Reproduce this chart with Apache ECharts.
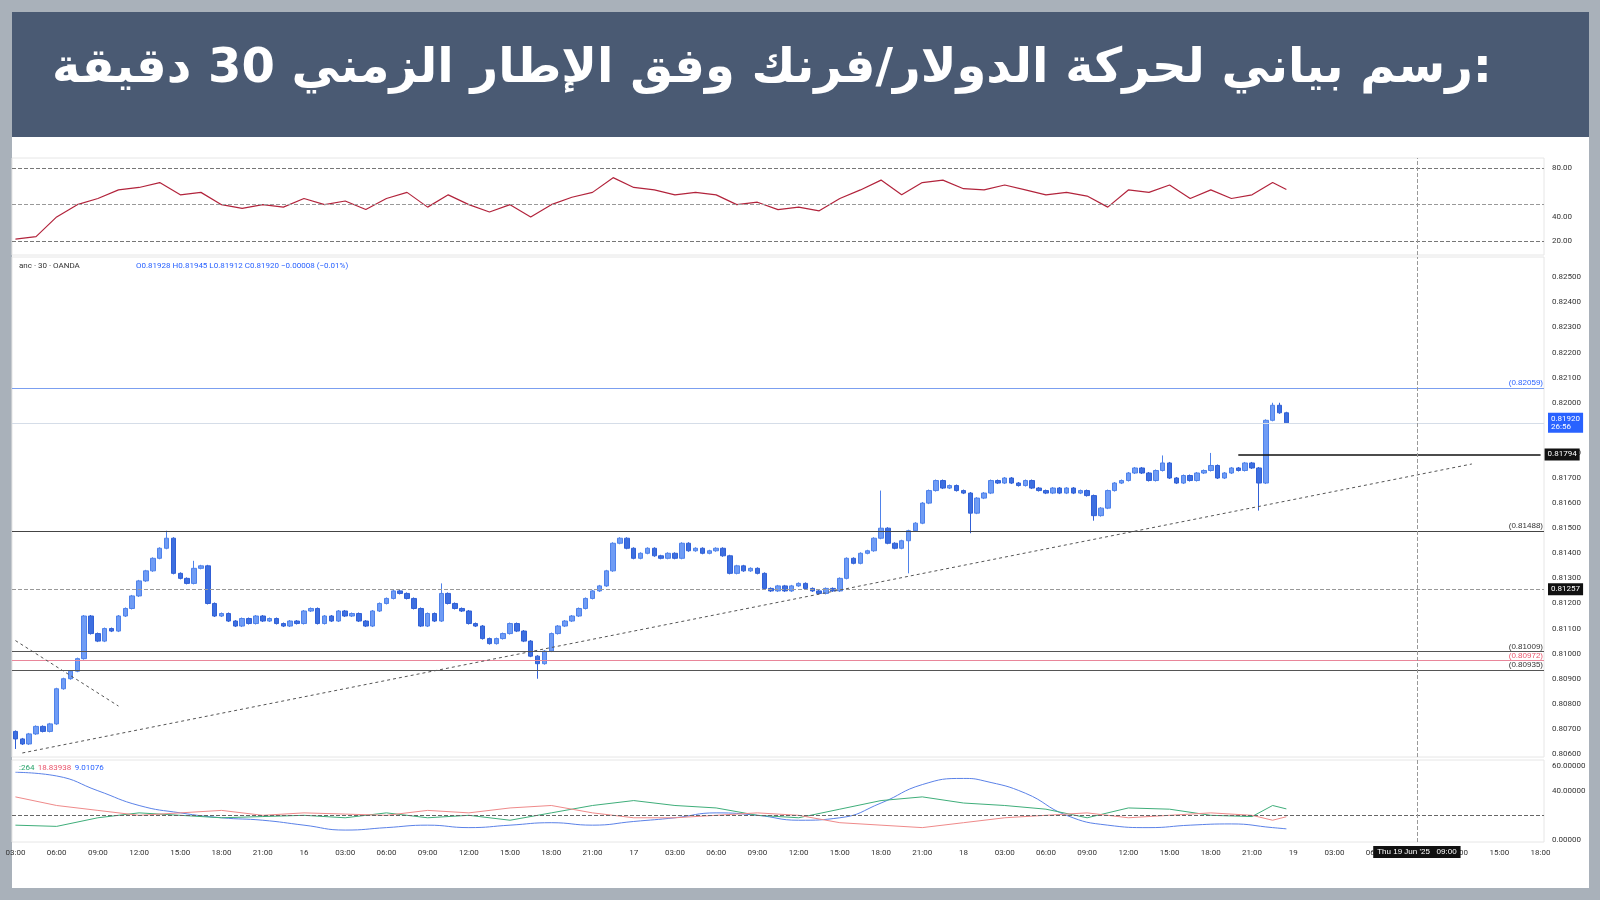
<!DOCTYPE html>
<html><head><meta charset="utf-8">
<script src="https://cdn.jsdelivr.net/npm/echarts@6/dist/echarts.min.js"></script>
<style>html,body{margin:0;padding:0;background:#a9b1ba;}#c{width:1600px;height:900px;}</style>
</head><body><div id="c"></div>
<script>
// prices in units of 0.00001 above 0.80000
const firstOpen = 690;
const closes = [660,640,680,710,690,720,860,900,930,980,
1150,1080,1050,1100,1090,1150,1180,1230,1290,1330,
1380,1420,1460,1320,1300,1280,1340,1350,1200,1150,
1160,1130,1110,1140,1120,1150,1130,1140,1120,1110,
1130,1120,1170,1180,1120,1150,1130,1170,1150,1160,
1130,1110,1170,1200,1220,1250,1240,1220,1180,1110,
1160,1130,1240,1200,1180,1170,1120,1110,1060,1040,
1060,1080,1120,1090,1050,990,960,1010,1080,1110,
1130,1150,1180,1220,1250,1270,1330,1440,1460,1420,
1380,1400,1420,1390,1380,1400,1380,1440,1410,1420,
1400,1410,1420,1390,1320,1350,1330,1340,1320,1260,
1250,1270,1250,1270,1280,1260,1250,1240,1260,1250,
1300,1380,1360,1400,1410,1460,1500,1440,1420,1450,
1490,1520,1600,1650,1690,1660,1670,1650,1640,1560,
1620,1640,1690,1680,1700,1680,1670,1690,1660,1650,
1640,1660,1640,1660,1640,1650,1630,1550,1580,1650,
1680,1690,1720,1740,1720,1690,1730,1760,1700,1680,
1710,1690,1720,1730,1750,1700,1720,1740,1730,1760,
1740,1680,1930,1990,1960,1920];
const defaultWick = 4;
const longWicks = {0:{l:620},22:{h:1490},26:{h:1370},62:{h:1280},76:{l:900},126:{h:1650},130:{l:1320},139:{l:1480},157:{l:1530},167:{h:1790},174:{h:1800},181:{l:1570},183:{h:2000},184:{h:2000}};
const rsiPts = [[0,22],[3,24],[6,40],[9,50],[12,55],[15,62],[18,64],[21,68],[24,58],[27,60],[30,50],[33,47],[36,50],[39,48],[42,55],[45,50],[48,53],[51,46],[54,55],[57,60],[60,48],[63,58],[66,50],[69,44],[72,50],[75,40],[78,50],[81,56],[84,60],[87,72],[90,64],[93,62],[96,58],[99,60],[102,58],[105,50],[108,52],[111,46],[114,48],[117,45],[120,55],[123,62],[126,70],[129,58],[132,68],[135,70],[138,63],[141,62],[144,66],[147,62],[150,58],[153,60],[156,57],[159,48],[162,62],[165,60],[168,66],[171,55],[174,62],[177,55],[180,58],[183,68],[185,62.39]];
const adxPts = [[0,55],[6,52],[12,40],[18,28],[24,22],[30,18],[36,16],[42,12],[48,8],[54,10],[60,12],[66,10],[72,12],[78,14],[84,12],[90,15],[96,18],[102,22],[108,20],[114,16],[120,18],[126,30],[132,45],[138,50],[141,48],[147,38],[153,20],[159,12],[165,10],[171,12],[177,13],[183,10],[185,9.01]];
const plusDiPts = [[0,12],[6,11],[12,18],[18,22],[24,20],[30,18],[36,19],[42,20],[48,18],[54,22],[60,18],[66,20],[72,16],[78,22],[84,28],[90,32],[96,28],[102,26],[108,20],[114,18],[120,25],[126,32],[132,35],[138,30],[144,28],[150,25],[156,18],[162,26],[168,25],[174,20],[180,19],[183,28],[185,25.23]];
const minusDiPts = [[0,35],[6,28],[12,24],[18,20],[24,22],[30,24],[36,20],[42,22],[48,21],[54,20],[60,24],[66,22],[72,26],[78,28],[84,22],[90,18],[96,18],[102,20],[108,22],[114,20],[120,14],[126,12],[132,10],[138,14],[144,18],[150,20],[156,22],[162,18],[168,20],[174,22],[180,20],[183,16],[185,18.84]];
const priceTicks = [600,700,800,900,1000,1100,1200,1300,1400,1500,1600,1700,1800,1900,2000,2100,2200,2300,2400,2500];
const slotCount = 223;
const startDay = 15, startHour = 3;
const cats = [];
for (let i=0;i<slotCount;i++){const m=startHour*60+i*30;cats.push({d:startDay+Math.floor(m/1440),h:Math.floor((m%1440)/60),mi:m%60});}
const catNames = cats.map(c=>c.d+' '+String(c.h).padStart(2,'0')+':'+String(c.mi).padStart(2,'0'));
const ohlc = closes.map((c,i)=>{const o=i?closes[i-1]:firstOpen;const w=longWicks[i]||{};
  return [o,c,w.l!==undefined?w.l:Math.min(o,c)-defaultWick,w.h!==undefined?w.h:Math.max(o,c)+defaultWick];});
const fmtP = v => (0.8+v/1e5).toFixed(5);

const chart = echarts.init(document.getElementById('c'));
const axisLbl = {color:'#333',fontSize:8,fontFamily:'Roboto'};
const tag = (txt,bg,extra)=>Object.assign({show:true,position:'end',formatter:txt,color:'#fff',backgroundColor:bg,padding:[2,3],fontSize:8,fontFamily:'Roboto',distance:4},extra||{});
const xBase = {type:'category',data:catNames,boundaryGap:true,axisLine:{show:false},axisTick:{show:false},splitLine:{show:false},axisLabel:{show:false}};
const lvlLbl = (txt,col)=>({show:true,position:'insideEndTop',formatter:txt,color:col,fontSize:8,distance:1});
chart.setOption({
  animation:false,
  backgroundColor:'transparent',
  graphic:[
    {type:'rect',shape:{x:12,y:12,width:1577,height:876},style:{fill:'#ffffff'},z:-10},
    {type:'rect',shape:{x:12,y:12,width:1577,height:125},style:{fill:'#4a5a73'},z:-9},
    {type:'text',right:108,top:46,style:{text:'رسم بياني لحركة الدولار/فرنك وفق الإطار الزمني 30 دقيقة:',fill:'#fff',font:'bold 48px "DejaVu Sans"'}},
    {type:'text',left:19,top:262,style:{text:'anc · 30 · OANDA',fill:'#333',font:'8px Roboto'}},
    {type:'text',left:136,top:262,style:{text:'O0.81928 H0.81945 L0.81912 C0.81920 −0.00008 (−0.01%)',fill:'#2962ff',font:'8px Roboto'}},
    {type:'text',left:19,top:762,style:{rich:{g:{fill:'#26a269',font:'8px Roboto'},r:{fill:'#e9546b',font:'8px Roboto'},b:{fill:'#2962ff',font:'8px Roboto'}},text:'{g|:264} {r|18.83938} {b|9.01076}'}}
  ],
  grid:[
    {left:12,right:56,top:158,height:97,show:true,borderColor:'#e6e6e6',borderWidth:1},
    {left:12,right:56,top:257,height:500,show:true,borderColor:'#e6e6e6',borderWidth:1},
    {left:12,right:56,top:760,height:82,show:true,borderColor:'#e6e6e6',borderWidth:1}
  ],
  xAxis:[
    Object.assign({gridIndex:0},xBase),
    Object.assign({gridIndex:1},xBase),
    Object.assign({},xBase,{gridIndex:2,axisLabel:{show:true,color:'#333',fontSize:8,fontFamily:'Roboto',margin:7,
      interval:i=>i%6===0,
      formatter:(v,i)=>{const c=cats[i];return c.h===0&&c.mi===0?String(c.d):String(c.h).padStart(2,'0')+':00';}}})
  ],
  yAxis:[
    {gridIndex:0,position:'right',min:9,max:88,splitLine:{show:false},axisLine:{show:false},axisTick:{show:false},axisLabel:Object.assign({customValues:[20,40,80],formatter:v=>v.toFixed(2)},axisLbl)},
    {gridIndex:1,position:'right',min:588,max:2581,splitLine:{show:false},axisLine:{show:false},axisTick:{show:false},axisLabel:Object.assign({customValues:priceTicks,formatter:fmtP},axisLbl)},
    {gridIndex:2,position:'right',min:-1.7,max:65,splitLine:{show:false},axisLine:{show:false},axisTick:{show:false},axisLabel:Object.assign({customValues:[0,40,60],formatter:v=>v.toFixed(5)},axisLbl)}
  ],
  series:[
    {type:'line',xAxisIndex:0,yAxisIndex:0,data:rsiPts,symbol:'none',lineStyle:{color:'#b2243c',width:1.2},
      markLine:{silent:true,symbol:'none',data:[
        {yAxis:80,lineStyle:{color:'#777',type:'dashed',width:1},label:{show:false}},
        {yAxis:50,lineStyle:{color:'#999',type:'dashed',width:1},label:{show:false}},
        {yAxis:20,lineStyle:{color:'#777',type:'dashed',width:1},label:{show:false}},
        {yAxis:62.39,lineStyle:{opacity:0},label:tag('62.39','#b2243c')},
        {xAxis:204,lineStyle:{color:'#999',type:'dashed',width:1},label:{show:false}}
      ]}},
    {type:'candlestick',xAxisIndex:1,yAxisIndex:1,data:ohlc,barWidth:5,
      itemStyle:{color:'#6f9cf5',color0:'#3d6fe0',borderColor:'#4f82ea',borderColor0:'#3160d6'},
      markLine:{silent:true,symbol:'none',data:[
        {yAxis:2059,lineStyle:{color:'#7b9ff0',type:'solid',width:1.2},label:lvlLbl('(0.82059)','#2962ff')},
        {yAxis:1920,lineStyle:{color:'#d5dde8',type:'solid',width:1},label:tag('0.81920\n26:56','#2962ff')},
        [{coord:[178,1794],lineStyle:{color:'#111',type:'solid',width:1.5},label:tag('0.81794','#111')},{coord:[222,1794]}],
        {yAxis:1488,lineStyle:{color:'#444',type:'solid',width:1},label:lvlLbl('(0.81488)','#333')},
        {yAxis:1257,lineStyle:{color:'#999',type:'dashed',width:1},label:tag('0.81257','#111')},
        {yAxis:1009,lineStyle:{color:'#555',type:'solid',width:1},label:lvlLbl('(0.81009)','#333')},
        {yAxis:972,lineStyle:{color:'#e9869a',type:'solid',width:1},label:lvlLbl('(0.80972)','#e9546b')},
        {yAxis:935,lineStyle:{color:'#555',type:'solid',width:1},label:lvlLbl('(0.80935)','#333')},
        {yAxis:566,lineStyle:{opacity:0},label:lvlLbl('(0.80566)','#333')},
        [{coord:[1,604],lineStyle:{color:'#555',type:[3,3],width:1},label:{show:false}},{coord:[212,1756]}],
        [{coord:[0,1052],lineStyle:{color:'#555',type:[3,3],width:1},label:{show:false}},{coord:[15,791]}],
        {xAxis:204,lineStyle:{color:'#999',type:'dashed',width:1},label:{show:false}}
      ]},
      markPoint:{silent:true,symbol:'none',data:[
        {coord:[43,808],label:{show:true,formatter:'↑',fontSize:30,color:'#111',fontFamily:'DejaVu Sans'}},
        {coord:[134,1389],label:{show:true,formatter:'↑',fontSize:22,color:'#111',fontFamily:'DejaVu Sans'}},
        {coord:[193,1723],label:{show:true,formatter:'↑',fontSize:26,color:'#111',fontFamily:'DejaVu Sans'}}
      ]}},
    {type:'line',xAxisIndex:2,yAxisIndex:2,data:adxPts,symbol:'none',smooth:true,lineStyle:{color:'#5b82e8',width:1},
      markLine:{silent:true,symbol:'none',data:[
        {yAxis:20,lineStyle:{color:'#666',type:'dashed',width:1},label:{show:false}},
        {yAxis:9.01,lineStyle:{opacity:0},label:tag('9.01076','#2962ff')},
        {xAxis:204,lineStyle:{color:'#999',type:'dashed',width:1},label:{show:true,position:'start',formatter:"Thu 19 Jun '25   09:00",color:'#fff',backgroundColor:'#111',padding:[2,4],fontSize:8,distance:4}}
      ]}},
    {type:'line',xAxisIndex:2,yAxisIndex:2,data:plusDiPts,symbol:'none',lineStyle:{color:'#3fae7a',width:1},
      markLine:{silent:true,symbol:'none',data:[{yAxis:25.23,lineStyle:{opacity:0},label:tag('25.23264','#26a269',{offset:[0,-2]})}]}},
    {type:'line',xAxisIndex:2,yAxisIndex:2,data:minusDiPts,symbol:'none',lineStyle:{color:'#ef8a8a',width:1},
      markLine:{silent:true,symbol:'none',data:[{yAxis:18.84,lineStyle:{opacity:0},label:tag('18.83938','#e9546b',{offset:[0,3]})}]}}
  ]
});
</script></body></html>
